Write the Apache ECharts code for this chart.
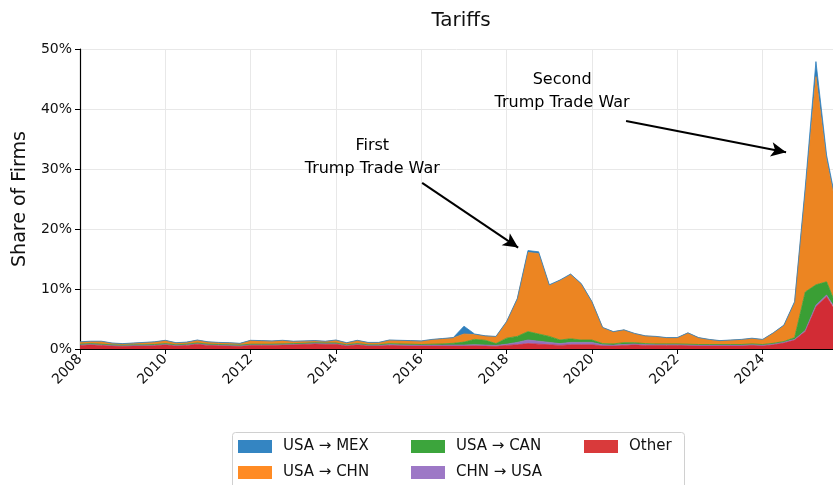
<!DOCTYPE html>
<html>
<head>
<meta charset="utf-8">
<script src="https://cdn.jsdelivr.net/npm/echarts@6/dist/echarts.min.js"></script>
<style>
html,body{margin:0;padding:0;background:#fff;}
#chart{width:833px;height:485px;}
</style>
</head>
<body>
<div id="chart"></div>
<script>
// Quarter start dates (decimal years), 2008 Q1 .. 2025 Q4
const quarters = [
  2008.0,2008.25,2008.5,2008.75, 2009.0,2009.25,2009.5,2009.75,
  2010.0,2010.25,2010.5,2010.75, 2011.0,2011.25,2011.5,2011.75,
  2012.0,2012.25,2012.5,2012.75, 2013.0,2013.25,2013.5,2013.75,
  2014.0,2014.25,2014.5,2014.75, 2015.0,2015.25,2015.5,2015.75,
  2016.0,2016.25,2016.5,2016.75, 2017.0,2017.25,2017.5,2017.75,
  2018.0,2018.25,2018.5,2018.75, 2019.0,2019.25,2019.5,2019.75,
  2020.0,2020.25,2020.5,2020.75, 2021.0,2021.25,2021.5,2021.75,
  2022.0,2022.25,2022.5,2022.75, 2023.0,2023.25,2023.5,2023.75,
  2024.0,2024.25,2024.5,2024.75, 2025.0,2025.25,2025.5,2025.75
];

// Share of firms (%) per layer
const other = [
  0.6,0.7,0.6,0.5, 0.45,0.5,0.5,0.55, 0.7,0.5,0.6,0.8, 0.6,0.55,0.5,0.45,
  0.6,0.6,0.6,0.65, 0.7,0.75,0.85,0.8, 0.8,0.5,0.7,0.5, 0.5,0.6,0.55,0.5,
  0.5,0.5,0.5,0.5, 0.5,0.55,0.5,0.45, 0.6,0.7,0.9,0.8, 0.7,0.6,0.7,0.7,
  0.7,0.5,0.5,0.6, 0.7,0.6,0.6,0.6, 0.6,0.55,0.5,0.5, 0.5,0.5,0.5,0.6,
  0.5,0.7,1.0,1.5, 2.9,7.0,8.7,5.9
];
const chnUsa = [
  0.15,0.15,0.15,0.15, 0.15,0.15,0.15,0.15, 0.15,0.15,0.15,0.15, 0.15,0.15,0.15,0.15,
  0.15,0.15,0.15,0.15, 0.15,0.15,0.15,0.15, 0.15,0.15,0.15,0.15, 0.15,0.15,0.15,0.15,
  0.15,0.15,0.15,0.15, 0.15,0.15,0.15,0.15, 0.2,0.4,0.6,0.5, 0.4,0.3,0.4,0.4,
  0.4,0.2,0.15,0.15, 0.15,0.15,0.15,0.15, 0.15,0.15,0.15,0.15, 0.15,0.15,0.15,0.15,
  0.15,0.15,0.15,0.1, 0.2,0.3,0.3,0.3
];
const usaCan = [
  0.05,0.05,0.05,0.05, 0.05,0.05,0.05,0.05, 0.05,0.05,0.05,0.05, 0.05,0.05,0.05,0.05,
  0.05,0.05,0.05,0.05, 0.05,0.05,0.05,0.05, 0.05,0.05,0.05,0.05, 0.05,0.15,0.15,0.15,
  0.1,0.15,0.2,0.3, 0.5,0.9,0.8,0.3, 1.0,1.0,1.4,1.2, 1.0,0.6,0.6,0.4,
  0.4,0.2,0.2,0.3, 0.2,0.15,0.1,0.1, 0.1,0.1,0.1,0.1, 0.1,0.1,0.1,0.1,
  0.1,0.1,0.1,0.3, 6.4,3.4,2.2,0.6
];
const usaChn = [
  0.35,0.35,0.45,0.25, 0.2,0.25,0.35,0.4, 0.5,0.3,0.3,0.45, 0.35,0.3,0.3,0.25,
  0.6,0.55,0.5,0.55, 0.35,0.35,0.3,0.25, 0.45,0.3,0.5,0.35, 0.35,0.55,0.55,0.55,
  0.55,0.75,0.85,0.9, 1.35,0.8,0.7,1.15, 2.7,6.2,13.2,13.4, 8.5,9.9,10.7,9.3,
  6.3,2.65,2.0,2.1, 1.5,1.25,1.2,1.0, 1.0,1.85,1.1,0.8, 0.6,0.7,0.8,0.9,
  0.8,1.7,2.65,5.8, 16.7,34.7,20.3,16.1
];
const usaMex = [
  0.05,0.05,0.05,0.05, 0.05,0.05,0.05,0.05, 0.05,0.05,0.05,0.05, 0.05,0.05,0.05,0.05,
  0.05,0.05,0.05,0.05, 0.05,0.05,0.05,0.05, 0.05,0.05,0.05,0.05, 0.05,0.05,0.05,0.05,
  0.05,0.05,0.05,0.05, 1.3,0.1,0.05,0.05, 0.1,0.1,0.3,0.3, 0.1,0.1,0.1,0.1,
  0.1,0.05,0.05,0.05, 0.05,0.05,0.05,0.05, 0.05,0.05,0.05,0.05, 0.05,0.05,0.05,0.05,
  0.05,0.05,0.1,0.2, 0.8,2.5,0.8,0.5
];

// legend swatch colours and area fill colours
const legendColors = {
  'USA \u2192 MEX':'#3485c2',
  'USA \u2192 CHN':'#ff8b24',
  'USA \u2192 CAN':'#3ca53c',
  'CHN \u2192 USA':'#9d78c6',
  'Other':'#d93a3b'
};
const areaColors = {
  'USA \u2192 MEX':'#2f7fbd',
  'USA \u2192 CHN':'#ec8522',
  'USA \u2192 CAN':'#3a9f35',
  'CHN \u2192 USA':'#9670be',
  'Other':'#d22c35'
};

// Annotations (data coordinates: year, %)
const annotTexts = [
  {name:'First\nTrump Trade War', value:[2014.85, 31.9]},
  {name:'Second\nTrump Trade War', value:[2019.3, 42.9]}
];
const annotArrows = [
  [[2016.02, 27.7],[2018.27, 16.9]],
  [[2020.80, 38.0],[2024.55, 32.8]]
];

const FONT = 'DejaVu Sans';
const chart = echarts.init(document.getElementById('chart'), null, {renderer:'canvas'});

// rows stored as [share, year] so the share column is the one ECharts stacks
function rows(arr){ return quarters.map((q,i)=>[arr[i], q]); }

// bottom-to-top stacking order
const stackOrder = [
  ['Other', other],
  ['CHN \u2192 USA', chnUsa],
  ['USA \u2192 CAN', usaCan],
  ['USA \u2192 CHN', usaChn],
  ['USA \u2192 MEX', usaMex]
];

const series = stackOrder.map(([name, arr]) => ({
  name: name,
  type: 'line',
  stack: 'total',
  data: rows(arr),
  encode: {x: 1, y: 0},
  showSymbol: false,
  symbol: 'none',
  smooth: false,
  lineStyle: {width: 0.8, color: areaColors[name]},
  areaStyle: {color: areaColors[name], opacity: 1},
  itemStyle: {color: legendColors[name]},
  emphasis: {disabled: true},
  z: 2
}));

series.push({
  name: 'annotations',
  type: 'scatter',
  data: annotTexts,
  symbolSize: 0,
  silent: true,
  z: 10,
  itemStyle: {opacity: 1},
  label: {
    show: true,
    position: 'inside',
    formatter: p => p.name,
    color: '#000',
    opacity: 1,
    fontFamily: FONT,
    fontSize: 16,
    lineHeight: 23,
    align: 'center',
    verticalAlign: 'middle'
  },
  markLine: {
    silent: true,
    symbol: ['none','arrow'],
    symbolSize: [11, 15],
    lineStyle: {color: '#000', width: 2, type: 'solid', opacity: 1},
    label: {show: false},
    data: annotArrows.map(a => [{coord: a[0]}, {coord: a[1]}])
  }
});

function legendCol(names, left){
  return {
    data: names,
    orient: 'vertical',
    left: left,
    top: 439,
    itemWidth: 34,
    itemHeight: 13,
    itemGap: 11,
    icon: 'rect',
    selectedMode: false,
    textStyle: {fontFamily: FONT, fontSize: 15, color: '#111', padding: [0,0,0,6]},
    padding: 0
  };
}

const option = {
  animation: false,
  backgroundColor: '#fff',
  title: {
    text: 'Tariffs',
    left: 456,
    textAlign: 'center',
    top: 6,
    textStyle: {fontFamily: FONT, fontSize: 20, fontWeight: 'normal', color: '#111'}
  },
  legend: [
    legendCol(['USA \u2192 MEX','USA \u2192 CHN'], 238),
    legendCol(['USA \u2192 CAN','CHN \u2192 USA'], 411),
    legendCol(['Other'], 584)
  ],
  graphic: [{
    type: 'rect',
    shape: {x: 232.5, y: 432.5, width: 452, height: 60, r: 3},
    style: {fill: 'rgba(255,255,255,0.8)', stroke: '#d0d0d0', lineWidth: 1},
    z: -1,
    silent: true
  }],
  grid: {left: 80, right: 0, top: 49, bottom: 136, containLabel: false},
  xAxis: {
    type: 'value',
    min: 2008,
    max: 2025.65,
    interval: 2,
    axisLine: {show: true, lineStyle: {color: '#000', width: 1.2}},
    axisTick: {show: true, length: 5, lineStyle: {color: '#000'}},
    axisLabel: {
      rotate: 45,
      fontFamily: FONT,
      fontSize: 14,
      color: '#111',
      margin: 8,
      formatter: v => (Math.abs(v - Math.round(v)) < 1e-6 && Math.round(v) % 2 === 0) ? String(Math.round(v)) : '',
      showMaxLabel: false
    },
    splitLine: {show: true, lineStyle: {color: '#e8e8e8', width: 1}}
  },
  yAxis: {
    type: 'value',
    min: 0,
    max: 50,
    interval: 10,
    name: 'Share of Firms',
    nameLocation: 'middle',
    nameGap: 40,
    nameTextStyle: {fontFamily: FONT, fontSize: 19, color: '#111'},
    axisLine: {show: true, lineStyle: {color: '#000', width: 1.2}},
    axisTick: {show: true, length: 5, lineStyle: {color: '#000'}},
    axisLabel: {fontFamily: FONT, fontSize: 14, color: '#111', margin: 8, formatter: '{value}%'},
    splitLine: {show: true, lineStyle: {color: '#e8e8e8', width: 1}}
  },
  series: series
};

chart.setOption(option);
</script>
</body>
</html>
